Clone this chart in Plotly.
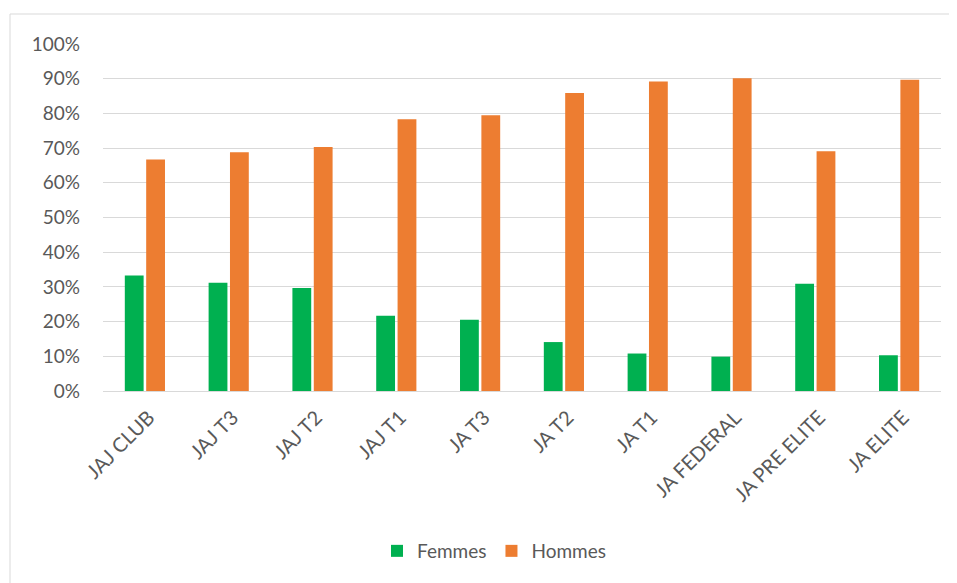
import plotly.graph_objects as go

categories = ["JAJ CLUB", "JAJ T3", "JAJ T2", "JAJ T1", "JA T3", "JA T2", "JA T1",
              "JA FEDERAL", "JA PRE ELITE", "JA ELITE"]
femmes = [0.333, 0.312, 0.297, 0.217, 0.205, 0.141, 0.108, 0.099, 0.309, 0.103]
hommes = [0.667, 0.688, 0.703, 0.783, 0.795, 0.859, 0.892, 0.901, 0.691, 0.897]

FONT = "Lato, Roboto, sans-serif"
GRAY = "#595959"

fig = go.Figure()
fig.add_trace(go.Bar(name="Femmes", x=categories, y=femmes, marker_color="#00B050",
                     marker_line_width=0))
fig.add_trace(go.Bar(name="Hommes", x=categories, y=hommes, marker_color="#ED7D31",
                     marker_line_width=0))

OFF = 8  # page offset of the figure in the browser
W, H = 957, 583
L, R, T, B = 103 - OFF, 24, 44 - OFF, 583 - (391 - OFF)
pw, ph = W - L - R, H - T - B

def px(x):
    return (x - OFF - L) / pw

def py(y):
    return (H - B - (y - OFF)) / ph

fig.update_layout(
    width=W, height=H,
    margin=dict(l=L, r=R, t=T, b=B),
    paper_bgcolor="white", plot_bgcolor="white",
    barmode="group", bargap=0.49, bargroupgap=0.12,
    font=dict(family=FONT, size=19, color=GRAY),
    legend=dict(orientation="h", x=px(494), xanchor="center", y=py(551), yanchor="middle",
                font=dict(family=FONT, size=19, color=GRAY), itemwidth=30,
                traceorder="normal"),
    xaxis=dict(tickangle=-45, showgrid=False, showline=False, ticks="",
               ticklabelstandoff=10, ticklabelshift=4,
               tickfont=dict(family=FONT, size=20, color=GRAY)),
    yaxis=dict(range=[0, 1.0], dtick=0.1, tickformat=".0%", showgrid=True,
               gridcolor="#D9D9D9", gridwidth=1, zeroline=True, zerolinecolor="#D9D9D9",
               zerolinewidth=1, showline=False, ticks="", ticklabelstandoff=22,
               tickfont=dict(family=FONT, size=19, color=GRAY)),
    shapes=[dict(type="rect", xref="paper", yref="paper",
                 x0=px(10), x1=px(952), y0=py(590), y1=py(14),
                 line=dict(color="#D9D9D9", width=1), fillcolor="rgba(0,0,0,0)",
                 layer="below")],
)

fig.write_html("out.html")
